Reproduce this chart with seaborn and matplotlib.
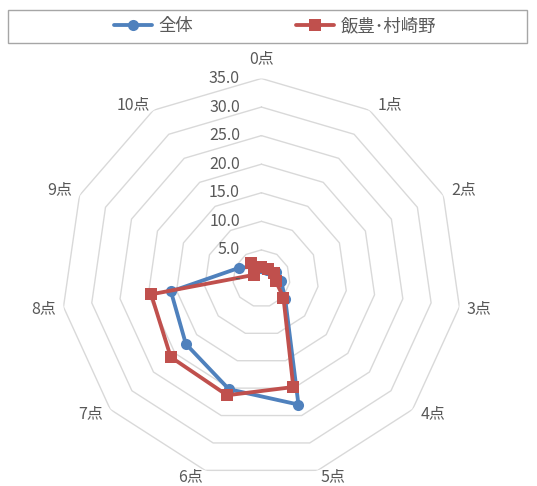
import numpy as np
import pandas as pd
import matplotlib
matplotlib.use("Agg")
import matplotlib.pyplot as plt
import matplotlib.patches as mpatches
import seaborn as sns

# Data
categories = ["0点", "1点", "2点", "3点", "4点", "5点", "6点", "7点", "8点", "9点", "10点"]
series_names = ["全体", "飯豊･村崎野"]
values_all = [1.8, 1.8, 2.8, 3.5, 5.5, 23.0, 20.2, 17.5, 16.0, 4.4, 2.5]
values_iitoyo = [2.0, 2.0, 2.4, 2.5, 5.1, 19.8, 21.3, 21.0, 19.5, 1.5, 3.3]
r_ticks = [0, 5, 10, 15, 20, 25, 30, 35]
r_tick_labels = ["-", "5.0", "10.0", "15.0", "20.0", "25.0", "30.0", "35.0"]

COLOR_BLUE = "#4F81BD"
COLOR_RED = "#C0504D"
COLOR_GRID = "#D9D9D9"
COLOR_TEXT = "#595959"

sns.set_theme(style="white")
plt.rcParams["font.family"] = ["Noto Sans CJK JP", "DejaVu Sans"]

n = len(categories)
theta = np.linspace(0, 2 * np.pi, n, endpoint=False)
theta_closed = np.append(theta, 2 * np.pi)

rows = []
for name, vals in zip(series_names, [values_all, values_iitoyo]):
    closed = list(vals) + [vals[0]]
    for t, v in zip(theta_closed, closed):
        rows.append({"区分": name, "theta": t, "value": v})
df = pd.DataFrame(rows)

fig = plt.figure(figsize=(5.37, 4.86), dpi=100)
ax = fig.add_axes([0.1144, 0.0155, 0.7449, 0.8230], projection="polar")
ax.set_theta_offset(np.pi / 2)
ax.set_theta_direction(-1)

# polygon gridlines like Excel radar
for lvl in r_ticks[1:]:
    ax.plot(theta_closed, [lvl] * len(theta_closed), color=COLOR_GRID, lw=1.0, zorder=1)

styles = {
    "全体": dict(color=COLOR_BLUE, marker="o", markersize=8),
    "飯豊･村崎野": dict(color=COLOR_RED, marker="s", markersize=8.5),
}
for name in series_names:
    sub = df[df["区分"] == name]
    sns.lineplot(data=sub, x="theta", y="value", sort=False, ax=ax,
                 linewidth=2.75, markeredgewidth=0, label=name, zorder=3,
                 **styles[name])

r_max = r_ticks[-1]
ax.set_ylim(0, r_max)
ax.grid(False)
ax.spines["polar"].set_visible(False)
ax.set_xticks([])
ax.set_yticks([])
ax.set_xlabel("")
ax.set_ylabel("")

# radial value labels along the vertical axis
for lvl, lab in zip(r_ticks, r_tick_labels):
    ax.annotate(lab, xy=(0, lvl), xycoords="data", xytext=(-15.5, 0),
                textcoords="offset points", ha="right", va="center",
                fontsize=11.5, color=COLOR_TEXT)

# category labels, offset from the outer vertex the way Excel does it
for t, lab in zip(theta, categories):
    s, c = np.sin(t), np.cos(t)
    ox = 20 * np.sign(s) * min(1.0, np.sqrt(abs(s) / 0.5))
    if c > 0.99:
        oy = -19.5
    elif c > 0:
        oy = -5.4
    else:
        oy = 2 + 4.3 * c ** 2
    ax.annotate(lab, xy=(t, r_max), xycoords="data",
                xytext=(ox * 0.72, -oy * 0.72), textcoords="offset points",
                ha="center", va="center", fontsize=11.5, color=COLOR_TEXT)

handles, labels = ax.get_legend_handles_labels()
ax.get_legend().remove()
fig.legend(handles, labels, loc="center", bbox_to_anchor=(275 / 537, 1 - 26.5 / 486),
           ncol=2, frameon=False, fontsize=12.5, handlelength=2.2,
           handletextpad=0.4, columnspacing=5.9, labelcolor=COLOR_TEXT)
fig.patches.append(mpatches.Rectangle((8 / 537, 1 - 43 / 486), 519 / 537, 33 / 486,
                                      transform=fig.transFigure, fill=False,
                                      edgecolor="#A6A6A6", linewidth=1.0))

fig.savefig("out.png", dpi=100, facecolor="white")
